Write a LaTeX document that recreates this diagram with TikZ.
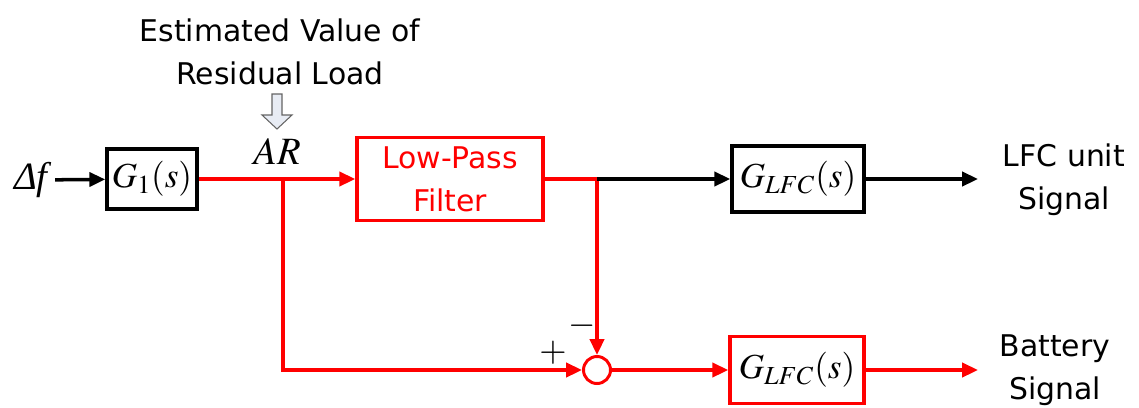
\documentclass[tikz,border=0pt]{standalone}
\usepackage{mathptmx}
\usepackage[no-math]{fontspec}
\usepackage{tikz}
\usetikzlibrary{arrows.meta, positioning}
\newfontfamily\labelfont{DejaVu Sans}
\newfontfamily\timesfont{Liberation Serif}
\definecolor{sigred}{RGB}{255, 0, 0}
\definecolor{hollowfill}{RGB}{232, 236, 244}
\definecolor{hollowdraw}{RGB}{100, 100, 100}

\begin{document}
\begin{tikzpicture}[
    x=0.02cm, y=-0.02cm,
    mathtxt/.style={font=\fontsize{20}{24}\selectfont},
    block/.style={rectangle, draw=black, line width=2pt, inner sep=0pt, mathtxt},
    redblock/.style={block, draw=sigred},
    sumpt/.style={circle, draw=sigred, line width=1.7pt, minimum size=0.54cm, inner sep=0pt},
    sig/.style={line width=2pt, -{Triangle[length=9pt, width=8pt]}},
    redsig/.style={sig, color=sigred},
    redwire/.style={line width=2pt, color=sigred},
    caption/.style={font=\labelfont\fontsize{17}{24.5}\selectfont, align=center, inner sep=0pt}
]
    \useasboundingbox (0,0) rectangle (1139,407);

    \node[font=\fontsize{22}{26}\selectfont, inner sep=4pt] (df) at (31,180) {\timesfont\itshape Δf};
    \node[block, minimum width=1.8cm, minimum height=1.2cm] (g1) at (152,179) {$G_1(s)$};
    \node[redblock, minimum width=3.72cm, minimum height=1.66cm, caption, text=sigred] (lpf) at (450,179) {Low-Pass\\Filter};
    \node[block, minimum width=2.64cm, minimum height=1.32cm] (glfcA) at (798,179) {$G_{LFC}(s)$};
    \node[redblock, minimum width=2.68cm, minimum height=1.34cm] (glfcB) at (797,370) {$G_{LFC}(s)$};
    \node[sumpt] (sum) at (597,370) {};

    \node[font=\fontsize{22}{26}\selectfont] (arlbl) at (277,152) {$AR$};
    \node[caption] (est) at (280,52) {Estimated Value of\\Residual Load};
    \node[caption] (lfcsig) at (1064,180) {LFC unit\\Signal};
    \node[caption] (batsig) at (1055,370) {Battery\\Signal};
    \node[mathtxt] (plus) at (553,353) {$+$};
    \node[mathtxt] (minus) at (582,326) {$-$};

    \draw[hollowdraw, fill=hollowfill, line width=0.6pt] (272,94) -- (282,94) -- (282,115) -- (292,115) -- (277,129) -- (262,115) -- (272,115) -- cycle;

    \coordinate (ar) at (283,179);
    \coordinate (split) at (597,179);
    \coordinate (outA) at (978,179);
    \coordinate (outB) at (978,370);

    \draw[sig] (df) -- (g1);
    \draw[redsig] (g1) -- (lpf);
    \draw[redsig] (ar) |- (sum);
    \draw[redwire] (lpf.east) -- (split);
    \draw[redsig] (split) -- (sum);
    \draw[sig] (split) -- (glfcA);
    \draw[redsig] (sum) -- (glfcB);
    \draw[sig] (glfcA) -- (outA);
    \draw[redsig] (glfcB) -- (outB);
\end{tikzpicture}
\end{document}
